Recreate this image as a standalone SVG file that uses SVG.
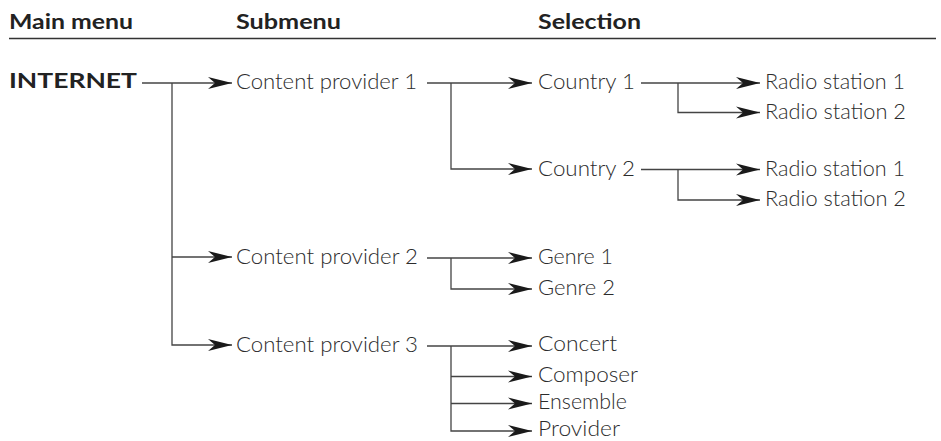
<svg xmlns="http://www.w3.org/2000/svg" width="941" height="441" viewBox="0 0 941 441">
<style>
.hd{font-family:Lato,"Open Sans","Liberation Sans",sans-serif;font-weight:700;font-size:20.5px;fill:#222}
.bd{font-family:Lato,"Open Sans","Liberation Sans",sans-serif;font-weight:700;font-size:21.5px;fill:#222}
.lt{font-family:Lato,"Open Sans","Liberation Sans",sans-serif;font-weight:300;font-size:22px;fill:#2c2c2c}
.c{fill:none;stroke:#444;stroke-width:1.3}
</style>
<defs>
<marker id="ah" viewBox="-25 -7 26 14" refX="0" refY="0" markerWidth="26" markerHeight="14" markerUnits="userSpaceOnUse" orient="auto">
<path d="M0,0 L-24,-6 L-17,0 L-24,6 Z" fill="#1a1a1a"/>
</marker>
</defs>
<g id="header">
<text class="hd" x="9" y="28.5" textLength="124" lengthAdjust="spacingAndGlyphs">Main menu</text>
<text class="hd" x="236" y="28.5" textLength="105" lengthAdjust="spacingAndGlyphs">Submenu</text>
<text class="hd" x="538" y="28.5" textLength="103" lengthAdjust="spacingAndGlyphs">Selection</text>
<line x1="9" y1="38.5" x2="936" y2="38.5" stroke="#333" stroke-width="1.6"/>
</g>
<g id="connectors">
<path class="c" d="M142,83 H232" marker-end="url(#ah)"/>
<path class="c" d="M172,83 V345 H232" marker-end="url(#ah)"/>
<path class="c" d="M172,257 H232" marker-end="url(#ah)"/>
<path class="c" d="M427,83 H532" marker-end="url(#ah)"/>
<path class="c" d="M451,83 V169 H532" marker-end="url(#ah)"/>
<path class="c" d="M641,83 H760" marker-end="url(#ah)"/>
<path class="c" d="M678,83 V112.5 H760" marker-end="url(#ah)"/>
<path class="c" d="M641,169.5 H760" marker-end="url(#ah)"/>
<path class="c" d="M678,169.5 V200 H760" marker-end="url(#ah)"/>
<path class="c" d="M427,258 H532" marker-end="url(#ah)"/>
<path class="c" d="M451,258 V289 H532" marker-end="url(#ah)"/>
<path class="c" d="M427,346 H532" marker-end="url(#ah)"/>
<path class="c" d="M451,346 V431 H532" marker-end="url(#ah)"/>
<path class="c" d="M451,376.5 H532" marker-end="url(#ah)"/>
<path class="c" d="M451,403.5 H532" marker-end="url(#ah)"/>
</g>
<g id="internet"><text class="bd" x="9" y="88" textLength="128" lengthAdjust="spacingAndGlyphs">INTERNET</text></g>
<g id="cp1"><text class="lt" x="236" y="89" textLength="181" lengthAdjust="spacingAndGlyphs">Content provider 1</text></g>
<g id="cp2"><text class="lt" x="236" y="264" textLength="182" lengthAdjust="spacingAndGlyphs">Content provider 2</text></g>
<g id="cp3"><text class="lt" x="236" y="352" textLength="182" lengthAdjust="spacingAndGlyphs">Content provider 3</text></g>
<g id="country1"><text class="lt" x="538" y="89" textLength="97" lengthAdjust="spacingAndGlyphs">Country 1</text></g>
<g id="country2"><text class="lt" x="538" y="175.5" textLength="97" lengthAdjust="spacingAndGlyphs">Country 2</text></g>
<g id="c1radio1"><text class="lt" x="765" y="89" textLength="140" lengthAdjust="spacingAndGlyphs">Radio station 1</text></g>
<g id="c1radio2"><text class="lt" x="765" y="118.5" textLength="141" lengthAdjust="spacingAndGlyphs">Radio station 2</text></g>
<g id="c2radio1"><text class="lt" x="765" y="175.5" textLength="140" lengthAdjust="spacingAndGlyphs">Radio station 1</text></g>
<g id="c2radio2"><text class="lt" x="765" y="206" textLength="141" lengthAdjust="spacingAndGlyphs">Radio station 2</text></g>
<g id="genre1"><text class="lt" x="538" y="264" textLength="75" lengthAdjust="spacingAndGlyphs">Genre 1</text></g>
<g id="genre2"><text class="lt" x="538" y="295" textLength="77" lengthAdjust="spacingAndGlyphs">Genre 2</text></g>
<g id="concert"><text class="lt" x="538" y="351" textLength="79" lengthAdjust="spacingAndGlyphs">Concert</text></g>
<g id="composer"><text class="lt" x="538" y="382" textLength="100" lengthAdjust="spacingAndGlyphs">Composer</text></g>
<g id="ensemble"><text class="lt" x="538" y="409" textLength="89" lengthAdjust="spacingAndGlyphs">Ensemble</text></g>
<g id="provider"><text class="lt" x="538" y="436" textLength="82" lengthAdjust="spacingAndGlyphs">Provider</text></g>
</svg>
